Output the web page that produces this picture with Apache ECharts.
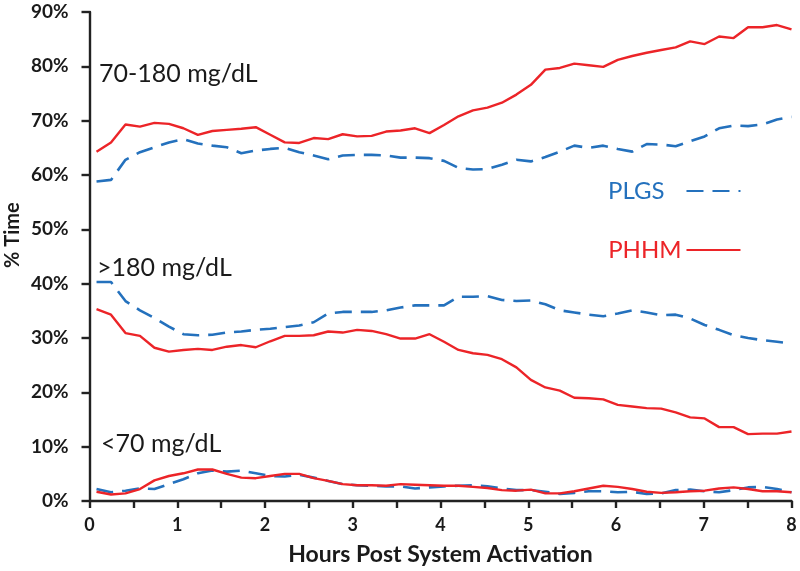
<!DOCTYPE html>
<html>
<head>
<meta charset="utf-8">
<script src="https://cdn.jsdelivr.net/npm/echarts@6/dist/echarts.min.js"></script>
<style>
html,body{margin:0;padding:0;background:#fff;}
#chart{width:800px;height:571px;}
</style>
</head>
<body>
<div id="chart"></div>
<script>
// Hours post system activation (sample times)
var hours = [0.08, 0.245, 0.41, 0.575, 0.74, 0.905, 1.07, 1.235, 1.40, 1.565,
  1.73, 1.895, 2.06, 2.225, 2.39, 2.555, 2.72, 2.885, 3.05, 3.215,
  3.38, 3.545, 3.71, 3.875, 4.04, 4.205, 4.37, 4.535, 4.70, 4.865,
  5.03, 5.195, 5.36, 5.525, 5.69, 5.855, 6.02, 6.185, 6.35, 6.515,
  6.68, 6.845, 7.01, 7.175, 7.34, 7.505, 7.67, 7.835, 8.00];

// % time in range 70-180 mg/dL
var plgsInRange = [58.8, 59.1, 62.8, 64.2, 65.1, 66.0, 66.6, 65.8, 65.4, 65.1,
  64.0, 64.5, 64.8, 65.0, 64.2, 63.6, 62.9, 63.6, 63.7, 63.7,
  63.6, 63.2, 63.2, 63.1, 62.6, 61.3, 61.0, 61.1, 61.9, 62.8,
  62.5, 63.3, 64.3, 65.4, 65.0, 65.4, 64.8, 64.3, 65.7, 65.6,
  65.3, 66.2, 67.1, 68.6, 69.1, 69.0, 69.3, 70.2, 70.7];
var phhmInRange = [64.3, 66.0, 69.3, 68.9, 69.6, 69.4, 68.6, 67.4, 68.1, 68.3,
  68.5, 68.8, 67.4, 66.0, 65.9, 66.8, 66.6, 67.5, 67.1, 67.2,
  68.0, 68.2, 68.6, 67.7, 69.2, 70.8, 71.9, 72.4, 73.3, 74.8,
  76.6, 79.4, 79.7, 80.5, 80.2, 79.9, 81.2, 81.9, 82.5, 83.0,
  83.5, 84.6, 84.1, 85.5, 85.2, 87.2, 87.2, 87.6, 86.8];

// % time >180 mg/dL
var plgsHigh = [40.3, 40.3, 36.8, 35.1, 33.7, 32.1, 30.7, 30.5, 30.6, 31.0,
  31.2, 31.5, 31.7, 32.0, 32.3, 32.9, 34.5, 34.8, 34.8, 34.8,
  35.1, 35.6, 36.0, 36.0, 36.0, 37.6, 37.6, 37.7, 37.0, 36.8,
  36.9, 36.2, 35.1, 34.7, 34.3, 34.0, 34.5, 35.1, 34.7, 34.2,
  34.3, 33.6, 32.4, 31.5, 30.5, 30.0, 29.6, 29.3, 29.0];
var phhmHigh = [35.3, 34.3, 30.9, 30.4, 28.2, 27.5, 27.8, 28.0, 27.8, 28.4,
  28.7, 28.3, 29.4, 30.4, 30.4, 30.5, 31.2, 31.0, 31.5, 31.3,
  30.7, 29.9, 29.9, 30.7, 29.3, 27.8, 27.2, 26.9, 26.1, 24.6,
  22.3, 20.9, 20.3, 19.0, 18.9, 18.7, 17.7, 17.4, 17.1, 17.0,
  16.3, 15.4, 15.2, 13.6, 13.6, 12.3, 12.4, 12.4, 12.8];

// % time <70 mg/dL
var plgsLow = [2.2, 1.6, 1.9, 2.3, 2.2, 3.1, 4.0, 5.1, 5.6, 5.4,
  5.6, 5.1, 4.6, 4.5, 4.8, 4.3, 3.7, 3.1, 2.9, 2.8,
  2.7, 2.7, 2.3, 2.5, 2.7, 2.8, 2.9, 2.7, 2.3, 2.0,
  2.0, 1.7, 1.3, 1.5, 1.8, 1.8, 1.6, 1.7, 1.3, 1.4,
  2.0, 2.1, 1.8, 1.6, 2.0, 2.5, 2.6, 2.2, 1.6];
var phhmLow = [1.7, 1.2, 1.4, 2.2, 3.8, 4.6, 5.1, 5.8, 5.8, 5.0,
  4.3, 4.2, 4.6, 5.0, 5.0, 4.2, 3.7, 3.1, 2.9, 2.9,
  2.8, 3.1, 3.0, 2.9, 2.8, 2.8, 2.6, 2.4, 2.0, 1.9,
  2.1, 1.4, 1.4, 1.8, 2.3, 2.8, 2.6, 2.2, 1.7, 1.5,
  1.6, 1.8, 1.9, 2.3, 2.5, 2.2, 1.8, 1.8, 1.6];

var xTicks = [0, 1, 2, 3, 4, 5, 6, 7, 8];
var yTicks = [0, 10, 20, 30, 40, 50, 60, 70, 80, 90];
var rangeLabels = ['70-180 mg/dL', '>180 mg/dL', '<70 mg/dL'];
var seriesNames = ['PLGS', 'PHHM'];

var BLUE = '#2471bd';
var RED = '#ec2428';
var FONT = 'Lato';

function pairs(vals) {
  return vals.map(function (v, i) { return [hours[i], v]; });
}
function blueSeries(vals) {
  return {
    name: seriesNames[0], type: 'line', data: pairs(vals), symbol: 'none',
    lineStyle: { color: BLUE, width: 2.6, type: [17, 9] },
    itemStyle: { color: BLUE }, animation: false, z: 2
  };
}
function redSeries(vals) {
  return {
    name: seriesNames[1], type: 'line', data: pairs(vals), symbol: 'none',
    lineStyle: { color: RED, width: 2.4 },
    itemStyle: { color: RED }, animation: false, z: 3
  };
}

var chart = echarts.init(document.getElementById('chart'), null, { renderer: 'canvas' });
chart.setOption({
  backgroundColor: '#fff',
  animation: false,
  grid: { left: 89.5, right: 8.5, top: 12, bottom: 69, containLabel: false },
  xAxis: {
    type: 'value', min: 0, max: 8, interval: 0.5,
    name: 'Hours Post System Activation', nameLocation: 'middle', nameGap: 42,
    nameTextStyle: { fontFamily: FONT, fontWeight: 'bold', fontSize: 23, color: '#1a1a1a' },
    axisLine: { lineStyle: { color: '#222', width: 2.4 } },
    axisTick: { length: 7, lineStyle: { color: '#222', width: 2.4 } },
    axisLabel: {
      margin: 15, fontFamily: FONT, fontWeight: 'bold', fontSize: 18, color: '#1a1a1a',
      formatter: function (v) { return xTicks.indexOf(v) >= 0 ? String(v) : ''; },
      showMinLabel: true, showMaxLabel: true
    },
    splitLine: { show: false }
  },
  yAxis: {
    type: 'value', min: 0, max: 90, interval: 10,
    axisLine: { show: true, lineStyle: { color: '#222', width: 2.4 } },
    axisTick: { show: true, length: 8, lineStyle: { color: '#222', width: 2.4 } },
    axisLabel: {
      margin: 21, fontFamily: FONT, fontWeight: 'bold', fontSize: 19, color: '#1a1a1a',
      formatter: function (v) { return yTicks.indexOf(v) >= 0 ? v + '%' : ''; }
    },
    splitLine: { show: false }
  },
  legend: {
    orient: 'vertical', left: 603, top: 174, align: 'right',
    itemWidth: 54, itemHeight: 20, itemGap: 35,
    itemStyle: { color: 'rgba(0,0,0,0)', borderColor: 'rgba(0,0,0,0)', borderWidth: 0 },
    textStyle: { fontFamily: FONT, fontSize: 24 },
    data: [
      { name: seriesNames[0], textStyle: { color: BLUE, padding: [0, 17, 0, 0] } },
      { name: seriesNames[1], textStyle: { color: RED } }
    ]
  },
  graphic: [
    { type: 'text', left: 99, top: 61, style: { text: rangeLabels[0], font: '25px ' + FONT, fill: '#1a1a1a' } },
    { type: 'text', left: 97, top: 255, style: { text: rangeLabels[1], font: '25px ' + FONT, fill: '#1a1a1a' } },
    { type: 'text', left: 101, top: 431, style: { text: rangeLabels[2], font: '25px ' + FONT, fill: '#1a1a1a' } },
    { type: 'text', x: 3, y: 268, rotation: Math.PI / 2, style: { text: '% Time', font: 'bold 20px ' + FONT, fill: '#1a1a1a' } }
  ],
  series: [
    blueSeries(plgsInRange), redSeries(phhmInRange),
    blueSeries(plgsHigh), redSeries(phhmHigh),
    blueSeries(plgsLow), redSeries(phhmLow)
  ]
});
</script>
</body>
</html>
